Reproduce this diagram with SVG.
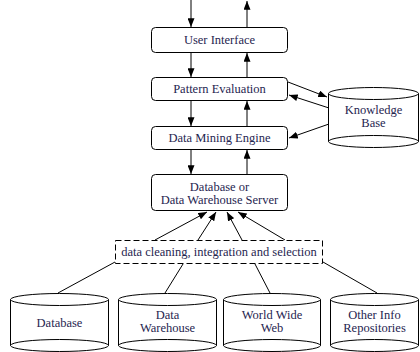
<svg xmlns="http://www.w3.org/2000/svg" width="420" height="352" viewBox="0 0 420 352">
<defs>
<style>
.box{fill:#fff;stroke:#000;stroke-width:1}
.cyl{fill:#fff;stroke:#000;stroke-width:1}
.t{font-family:"Liberation Serif","Times New Roman","DejaVu Serif",serif;font-size:12.5px;fill:#1f2550;text-anchor:middle}
.c{stroke:#000;stroke-width:1;fill:none}
.a{stroke:#000;stroke-width:1;fill:none;marker-end:url(#ah)}
</style>
<marker id="ah" viewBox="0 0 10 8" refX="10" refY="4" markerWidth="9" markerHeight="7" markerUnits="userSpaceOnUse" orient="auto">
<path d="M0,0 L10,4 L0,8 z" fill="#000"/>
</marker>
</defs>
<rect width="420" height="352" fill="#fff"/>
<g id="connectors">
<line class="a" x1="191" y1="0" x2="191" y2="27"/>
<line class="a" x1="247" y1="27" x2="247" y2="1"/>
<line class="a" x1="191" y1="53" x2="191" y2="77"/>
<line class="a" x1="247" y1="77" x2="247" y2="53"/>
<line class="a" x1="191" y1="101" x2="191" y2="126"/>
<line class="a" x1="247" y1="126" x2="247" y2="101"/>
<line class="a" x1="191" y1="150" x2="191" y2="174"/>
<line class="a" x1="247" y1="174" x2="247" y2="150"/>
<line class="a" x1="288" y1="82" x2="327" y2="97"/>
<line class="a" x1="329" y1="108" x2="289" y2="95"/>
<line class="a" x1="329" y1="124" x2="289" y2="138"/>
<line class="a" x1="155" y1="240" x2="207" y2="212"/>
<line class="a" x1="198" y1="240" x2="216" y2="212"/>
<line class="a" x1="242" y1="240" x2="227" y2="212"/>
<line class="a" x1="285" y1="240" x2="238" y2="212"/>
<line class="c" x1="115" y1="262" x2="58" y2="293"/>
<line class="c" x1="183" y1="264" x2="165" y2="293"/>
<line class="c" x1="255" y1="264" x2="270" y2="293"/>
<line class="c" x1="323" y1="262" x2="377" y2="293"/>
</g>
<g id="user-interface">
<rect class="box" x="151.5" y="27.5" width="136" height="25" rx="4"/>
<text class="t" x="219.5" y="44">User Interface</text>
</g>
<g id="pattern-evaluation">
<rect class="box" x="151.5" y="77.5" width="136" height="23" rx="4"/>
<text class="t" x="219.5" y="93">Pattern Evaluation</text>
</g>
<g id="data-mining-engine">
<rect class="box" x="151.5" y="126.5" width="136" height="23" rx="4"/>
<text class="t" x="219.5" y="142">Data Mining Engine</text>
</g>
<g id="server">
<rect class="box" x="151.5" y="174.5" width="136" height="36" rx="4"/>
<text class="t" x="219.5" y="191">Database or</text>
<text class="t" x="219.5" y="204">Data Warehouse Server</text>
</g>
<g id="knowledge-base">
<path class="cyl" d="M328.5,93.5 V141.5 A45,6 0 0 0 418.5,141.5 V93.5"/>
<ellipse class="cyl" cx="373.5" cy="93.5" rx="45" ry="6"/>
<path class="c" d="M328.5,141.5 A45,6 0 0 1 418.5,141.5"/>
<text class="t" x="373.5" y="114">Knowledge</text>
<text class="t" x="373.5" y="127">Base</text>
</g>
<g id="cleaning">
<rect x="115.5" y="240.5" width="207" height="23" fill="#fff" stroke="#000" stroke-width="1" stroke-dasharray="6,3"/>
<text class="t" x="219" y="256">data cleaning, integration and selection</text>
</g>
<g id="database">
<path class="cyl" d="M10.5,299.5 V345.5 A49,6 0 0 0 108.5,345.5 V299.5"/>
<ellipse class="cyl" cx="59.5" cy="299.5" rx="49" ry="6"/>
<path class="c" d="M10.5,345.5 A49,6 0 0 1 108.5,345.5"/>
<text class="t" x="59.5" y="327">Database</text>
</g>
<g id="data-warehouse">
<path class="cyl" d="M118.5,299.5 V345.5 A49,6 0 0 0 216.5,345.5 V299.5"/>
<ellipse class="cyl" cx="167.5" cy="299.5" rx="49" ry="6"/>
<path class="c" d="M118.5,345.5 A49,6 0 0 1 216.5,345.5"/>
<text class="t" x="167.5" y="319">Data</text>
<text class="t" x="167.5" y="332">Warehouse</text>
</g>
<g id="world-wide-web">
<path class="cyl" d="M223.5,299.5 V345.5 A48.5,6 0 0 0 320.5,345.5 V299.5"/>
<ellipse class="cyl" cx="272" cy="299.5" rx="48.5" ry="6"/>
<path class="c" d="M223.5,345.5 A48.5,6 0 0 1 320.5,345.5"/>
<text class="t" x="272" y="319">World Wide</text>
<text class="t" x="272" y="332">Web</text>
</g>
<g id="other-info">
<path class="cyl" d="M330.5,299.5 V345.5 A44,6 0 0 0 418.5,345.5 V299.5"/>
<ellipse class="cyl" cx="374.5" cy="299.5" rx="44" ry="6"/>
<path class="c" d="M330.5,345.5 A44,6 0 0 1 418.5,345.5"/>
<text class="t" x="374.5" y="319">Other Info</text>
<text class="t" x="374.5" y="332">Repositories</text>
</g>
</svg>
